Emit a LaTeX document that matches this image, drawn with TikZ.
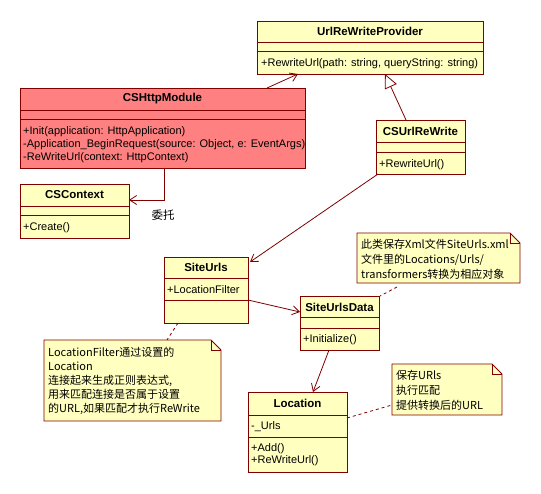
\documentclass[tikz,border=0pt]{standalone}
\usepackage{fontspec}
\setmainfont{Liberation Sans}
\newfontfamily\cjk{Noto Sans CJK SC}
\usetikzlibrary{arrows.meta,calc}
\definecolor{bordc}{HTML}{800000}
\definecolor{yel}{HTML}{FFFFC0}
\definecolor{redf}{HTML}{FF8080}
\tikzset{
  cls/.style={draw=bordc, line width=0.9pt, anchor=north west, inner sep=0pt, outer sep=0pt},
  sepl/.style={draw=bordc, line width=0.9pt},
  ttl/.style={font=\fontsize{11.5}{13}\selectfont\bfseries, inner sep=0pt},
  mem/.style={font=\fontsize{11}{13}\selectfont, anchor=base west, inner sep=0pt},
  assoc/.style={draw=bordc, line width=0.8pt, -{Straight Barb[length=7pt,width=9pt]}},
  gen/.style={draw=bordc, line width=0.8pt, -{Triangle[open,length=14pt,width=13pt,fill=white]}},
  notelink/.style={draw=bordc, line width=0.8pt, dash pattern=on 3pt off 3pt},
  notearea/.style={draw=none, anchor=north west, inner sep=0pt, outer sep=0pt},
  notetxt/.style={font=\cjk\fontsize{11}{14.5}\selectfont, anchor=base west, inner sep=0pt},
}
% class box: name, fill, x1, y1, x2, y2, sep1, sep2
\newcommand\mkclass[8]{%
  \node[cls, fill=#2, minimum width={(#5-#3)*1pt}, minimum height={(#6-#4)*1pt}] (#1) at (#3,#4) {};
  \draw[sepl] (#3,#7) -- (#5,#7);
  \draw[sepl] (#3,#8) -- (#5,#8);
}
% note box: name, x1, y1, x2, y2
\newcommand\mknote[5]{%
  \node[notearea, minimum width={(#4-#2)*1pt}, minimum height={(#5-#3)*1pt}] (#1) at (#2,#3) {};
  \filldraw[draw=bordc, fill=yel, line width=0.9pt] (#2,#3) -- ({#4-10},#3) -- (#4,{#3+10}) -- (#4,#5) -- (#2,#5) -- cycle;
  \draw[draw=bordc, line width=0.8pt] ({#4-10},#3) -- ({#4-10},{#3+10}) -- (#4,{#3+10});
}
\begin{document}
\begin{tikzpicture}[x=1pt,y=-1pt]
\useasboundingbox[fill=white] (0,0) rectangle (541,493);

% UrlReWriteProvider
\mkclass{urp}{yel}{257}{21}{483}{74}{42}{51}
\node[ttl] (urpT) at (370,31.5) {UrlReWriteProvider};
\node[mem] (urpM) at (261,66) {+RewriteUrl(path: string, queryString: string)};

% CSHttpModule
\mkclass{chm}{redf}{20}{88}{305}{168}{110}{119}
\node[ttl] (chmT) at (162.5,99) {CSHttpModule};
\node[mem] (chmM1) at (23,134) {+Init(application: HttpApplication)};
\node[mem] (chmM2) at (23,147) {-Application\_BeginRequest(source: Object, e: EventArgs)};
\node[mem] (chmM3) at (23,160) {-ReWriteUrl(context: HttpContext)};

% CSContext
\mkclass{ctx}{yel}{20}{184}{129}{238}{206}{215}
\node[ttl] (ctxT) at (74.5,195) {CSContext};
\node[mem] (ctxM) at (23,230) {+Create()};

% CSUrlReWrite
\mkclass{cur}{yel}{376}{120}{465}{174}{142}{152}
\node[ttl] (curT) at (420.5,131) {CSUrlReWrite};
\node[mem] (curM) at (379,167) {+RewriteUrl()};

% SiteUrls
\mkclass{su}{yel}{164}{257}{248}{323}{278}{300}
\node[ttl] (suT) at (206,267.5) {SiteUrls};
\node[mem] (suA) at (167,293) {+LocationFilter};

% SiteUrlsData
\mkclass{sud}{yel}{300}{296}{379}{350}{317}{328}
\node[ttl] (sudT) at (339.5,307) {SiteUrlsData};
\node[mem] (sudM) at (303,342) {+Initialize()};

% Location
\mkclass{loc}{yel}{248}{392}{347}{472}{415}{437}
\node[ttl] (locT) at (297.5,403) {Location};
\node[mem] (locA) at (251,429) {-\_Urls};
\node[mem] (locM1) at (251,451) {+Add()};
\node[mem] (locM2) at (251,463) {+ReWriteUrl()};

% Notes
\mknote{n1}{357}{233}{520}{283}
\node[notetxt] (n1a) at (361,248) {此类保存Xml文件SiteUrls.xml};
\node[notetxt] (n1b) at (361,263) {文件里的Locations/Urls/};
\node[notetxt] (n1c) at (361,278) {transformers转换为相应对象};

\mknote{n2}{44}{340}{221}{421}
\node[notetxt] (n2a) at (48,356) {LocationFilter通过设置的};
\node[notetxt] (n2b) at (48,370) {Location};
\node[notetxt] (n2c) at (48,384) {连接起来生成正则表达式,};
\node[notetxt] (n2d) at (48,398) {用来匹配连接是否属于设置};
\node[notetxt] (n2e) at (48,412) {的URL,如果匹配才执行ReWrite};

\mknote{n3}{392}{364}{502}{415}
\node[notetxt] (n3a) at (396,379) {保存URls};
\node[notetxt] (n3b) at (396,394) {执行匹配};
\node[notetxt] (n3c) at (396,409) {提供转换后的URL};

% Connectors
\draw[assoc] ($(chm.north west)+(247,0)$) -- ($(urp.south west)+(41,0)$);
\draw[gen] ($(cur.north west)+(30,0)$) -- ($(urp.south west)+(128,0)$);
\draw[assoc] ($(chm.south west)+(144,0)$) |- ($(ctx.north east)+(0,16)$);
\node[font=\cjk\fontsize{11.5}{13}\selectfont, inner sep=0pt] (dl) at (163,215) {委托};
\draw[assoc] ($(cur.south west)+(2,0)$) -- ($(su.north east)+(2,5)$);
\draw[assoc] ($(su.north east)+(0,43)$) -- ($(sud.north west)+(0,16)$);
\draw[assoc] ($(sud.south west)+(29,0)$) -- ($(loc.north west)+(65,0)$);
\draw[notelink] ($(n1.south west)+(40,4)$) -- ($(sud.north east)+(1,0)$);
\draw[notelink] ($(su.south west)+(14,0)$) -- ($(n2.north west)+(123,0)$);
\draw[notelink] ($(loc.north east)+(0,26)$) -- ($(n3.north west)+(0,41)$);
\end{tikzpicture}
\end{document}
